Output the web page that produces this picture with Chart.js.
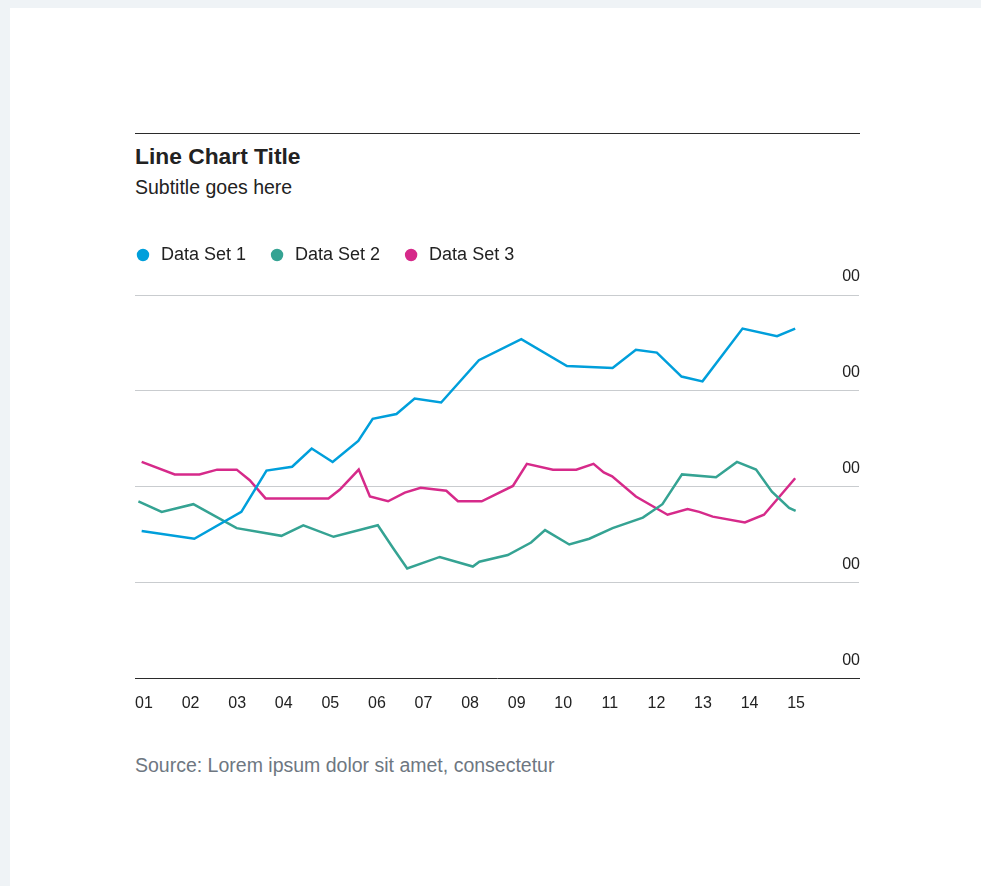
<!DOCTYPE html>
<html>
<head>
<meta charset="utf-8">
<title>Line Chart Title</title>
<script src="https://cdn.jsdelivr.net/npm/chart.js@4.4.1/dist/chart.umd.min.js"></script>
<style>
  html, body { margin: 0; padding: 0; }
  body {
    width: 981px; height: 886px; overflow: hidden; position: relative;
    background: #eff3f6;
    font-family: 'Liberation Sans', Arial, sans-serif;
  }
  .card { position: absolute; left: 10px; top: 8px; right: 0; bottom: 0; background: #fff; }
  .rule { position: absolute; left: 135px; top: 133px; width: 725px; height: 1px; background: #2b2b2b; }
  .title { position: absolute; left: 135px; top: 145px; font-size: 22.8px; font-weight: bold; line-height: 1; color: #222; white-space: nowrap; }
  .subtitle { position: absolute; left: 135px; top: 178px; font-size: 19.5px; line-height: 1; color: #222; white-space: nowrap; }
  .source { position: absolute; left: 135px; top: 756px; font-size: 19.5px; line-height: 1; color: #6e7781; white-space: nowrap; }
  #wrap { position: absolute; left: 135px; top: 224px; width: 726px; height: 489px; }
</style>
</head>
<body>
<div class="card"></div>
<div class="rule"></div>
<div class="title">Line Chart Title</div>
<div class="subtitle">Subtitle goes here</div>
<div id="wrap"><canvas id="chart"></canvas></div>
<div class="source">Source: Lorem ipsum dolor sit amet, consectetur</div>

<script>
// series names and colours
const seriesNames = ['Data Set 1', 'Data Set 2', 'Data Set 3'];
const seriesColors = ['#009fdb', '#35a393', '#d62a8a'];

// Data Set 1
const set1X = [0.95, 2.08, 3.09, 3.63, 4.18, 4.60, 5.05, 5.60, 5.91, 6.42, 6.81, 7.38, 8.19, 9.10, 10.08, 11.06, 11.56, 12.01, 12.54, 12.99, 13.85, 14.59, 14.98];
const set1Y = [1.54, 1.46, 1.74, 2.17, 2.21, 2.40, 2.26, 2.48, 2.71, 2.76, 2.92, 2.88, 3.32, 3.54, 3.26, 3.24, 3.43, 3.40, 3.15, 3.10, 3.65, 3.57, 3.65];

// Data Set 2
const set2X = [0.88, 1.38, 2.06, 2.99, 3.95, 4.42, 5.07, 6.02, 6.35, 6.65, 7.35, 8.06, 8.20, 8.81, 9.31, 9.61, 10.13, 10.56, 11.06, 11.71, 12.13, 12.55, 13.28, 13.73, 14.14, 14.48, 14.85, 14.99];
const set2Y = [1.85, 1.74, 1.82, 1.57, 1.49, 1.60, 1.48, 1.60, 1.36, 1.15, 1.27, 1.17, 1.22, 1.29, 1.42, 1.55, 1.40, 1.46, 1.57, 1.68, 1.82, 2.13, 2.10, 2.26, 2.18, 1.95, 1.78, 1.75];

// Data Set 3
const set3X = [0.95, 1.66, 2.19, 2.57, 2.99, 3.27, 3.61, 4.96, 5.20, 5.61, 5.85, 6.24, 6.60, 6.94, 7.49, 7.74, 8.25, 8.92, 9.22, 9.78, 10.28, 10.65, 10.87, 11.05, 11.56, 12.24, 12.67, 12.92, 13.21, 13.90, 14.31, 14.98];
const set3Y = [2.26, 2.13, 2.13, 2.18, 2.18, 2.07, 1.88, 1.88, 1.97, 2.18, 1.90, 1.85, 1.94, 1.99, 1.96, 1.85, 1.85, 2.01, 2.24, 2.18, 2.18, 2.24, 2.15, 2.11, 1.90, 1.71, 1.77, 1.74, 1.69, 1.63, 1.71, 2.09];

// axis ticks
const xTickValues = [1, 2, 3, 4, 5, 6, 7, 8, 9, 10, 11, 12, 13, 14, 15];
const xTickLabels = ['01', '02', '03', '04', '05', '06', '07', '08', '09', '10', '11', '12', '13', '14', '15'];
const yTickValues = [0, 1, 2, 3, 4];
const yTickLabels = ['00', '00', '00', '00', '00'];

const toPoints = (xs, ys) => xs.map((x, i) => ({ x: x, y: ys[i] }));
const allX = [set1X, set2X, set3X];
const allY = [set1Y, set2Y, set3Y];

Chart.defaults.font.family = "'Liberation Sans', Arial, sans-serif";
Chart.defaults.color = '#222';

// push the legend away from the plot and line its first dot up with the plot edge
const legendSpacing = {
    id: 'legendSpacing',
    afterInit(chart) {
        const fit = chart.legend.fit;
        chart.legend.fit = function () {
            fit.call(this);
            this.height += 21;
        };
    },
    afterLayout(chart) {
        chart.legend.left -= 23;
    }
};

new Chart(document.getElementById('chart'), {
    type: 'line',
    data: {
        datasets: seriesNames.map((name, i) => ({
            label: name,
            data: toPoints(allX[i], allY[i]),
            borderColor: seriesColors[i],
            backgroundColor: seriesColors[i],
            borderWidth: 2.5,
            pointRadius: 0,
            tension: 0
        }))
    },
    plugins: [legendSpacing],
    options: {
        responsive: true,
        maintainAspectRatio: false,
        animation: false,
        layout: { padding: 0 },
        plugins: {
            tooltip: { enabled: false },
            legend: {
                position: 'top',
                align: 'start',
                labels: {
                    usePointStyle: true,
                    pointStyle: 'circle',
                    boxHeight: 7,
                    padding: 22,
                    color: '#222',
                    font: { size: 18 }
                }
            }
        },
        scales: {
            x: {
                type: 'linear',
                min: 0.807,
                max: 16.35,
                afterBuildTicks: scale => { scale.ticks = xTickValues.map(v => ({ value: v })); },
                ticks: {
                    autoSkip: false,
                    maxRotation: 0,
                    padding: 0,
                    color: '#222',
                    font: { size: 16 },
                    callback: (v, i) => xTickLabels[i]
                },
                // hidden grid; tickLength only spaces the labels below the axis
                grid: { display: false, drawTicks: true, tickLength: 15 },
                border: { display: true, color: '#2b2b2b', width: 1 }
            },
            y: {
                position: 'right',
                min: 0,
                max: 4,
                afterBuildTicks: scale => { scale.ticks = yTickValues.map(v => ({ value: v })); },
                ticks: {
                    mirror: true,
                    padding: 1,
                    labelOffset: -18,
                    color: '#222',
                    font: { size: 16 },
                    callback: (v, i) => yTickLabels[i]
                },
                grid: {
                    drawTicks: false,
                    color: ctx => ctx.tick && ctx.tick.value === 0 ? 'rgba(0,0,0,0)' : '#c9cccf',
                    lineWidth: 1
                },
                border: { display: false }
            }
        }
    }
});
</script>
</body>
</html>
